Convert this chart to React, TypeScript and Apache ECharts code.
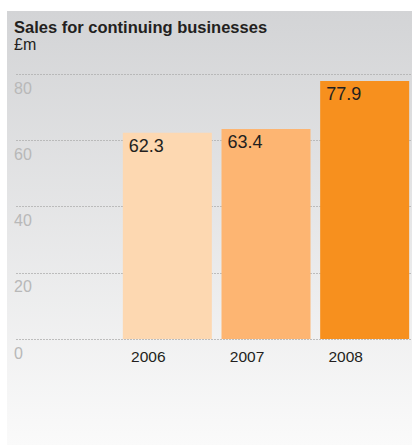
import React, { useEffect, useRef } from "react";
import * as echarts from "echarts";

const title = "Sales for continuing businesses";
const unit = "£m";
const categories = ["2006", "2007", "2008"];
const values = [62.3, 63.4, 77.9];
const barColors = ["#fdd8b1", "#fdb572", "#f7901e"];
const yMin = 0;
const yMax = 80;
const yInterval = 20;

export default function App() {
  const ref = useRef<HTMLDivElement>(null);
  useEffect(() => {
    document.body.style.margin = "0";
    const chart = echarts.init(ref.current!, null, { renderer: "svg" });
    const font = "'Liberation Sans', Arial, sans-serif";
    chart.setOption({
      animation: false,
      backgroundColor: "#ffffff",
      graphic: [
        {
          type: "rect",
          z: -10,
          shape: { x: 7, y: 11, width: 405, height: 434 },
          style: {
            fill: new echarts.graphic.LinearGradient(0, 0, 0, 1, [
              { offset: 0, color: "#d3d4d6" },
              { offset: 1, color: "#fafafa" },
            ]),
          },
        },
        {
          type: "text",
          x: 14,
          y: 27,
          style: {
            text: title,
            font: `bold 16.5px ${font}`,
            fill: "#231f20",
            textVerticalAlign: "middle",
          },
        },
        {
          type: "text",
          x: 14,
          y: 44,
          style: {
            text: unit,
            font: `16px ${font}`,
            fill: "#231f20",
            textVerticalAlign: "middle",
          },
        },
      ],
      grid: [
        { left: 16, top: 74, width: 395, height: 265 },
        { left: 118, top: 74, width: 300, height: 265 },
      ],
      xAxis: [
        { type: "value", gridIndex: 0, show: false, min: 0, max: 1 },
        {
          type: "category",
          gridIndex: 1,
          data: categories,
          axisLine: { show: false },
          axisTick: { show: false },
          axisLabel: {
            color: "#231f20",
            fontSize: 15.5,
            fontFamily: font,
            margin: 9,
            align: "center",
            padding: [0, 38, 0, 0],
          },
        },
      ],
      yAxis: [
        {
          type: "value",
          gridIndex: 0,
          min: yMin,
          max: yMax,
          interval: yInterval,
          axisLine: { show: false },
          axisTick: { show: false },
          splitLine: {
            show: true,
            lineStyle: { color: "#b0b0b0", type: [2, 1], width: 0.8 },
          },
          axisLabel: {
            color: "#b8b8b8",
            fontSize: 16,
            fontFamily: font,
            align: "left",
            verticalAlign: "top",
            margin: 2,
            padding: [6, 0, 0, 0],
          },
        },
        {
          type: "value",
          gridIndex: 1,
          min: yMin,
          max: yMax,
          interval: yInterval,
          show: false,
        },
      ],
      series: [
        {
          type: "bar",
          xAxisIndex: 1,
          yAxisIndex: 1,
          barWidth: 89,
          z: 3,
          data: values.map((v, i) => ({ value: v, itemStyle: { color: barColors[i] } })),
          label: {
            show: true,
            position: "insideTopLeft",
            distance: 5,
            offset: [1, -1],
            color: "#231f20",
            fontSize: 18,
            fontFamily: font,
            formatter: (p: any) => p.value.toFixed(1),
          },
        },
      ],
    });
    return () => chart.dispose();
  }, []);
  return <div ref={ref} style={{ width: 414, height: 445 }} />;
}
